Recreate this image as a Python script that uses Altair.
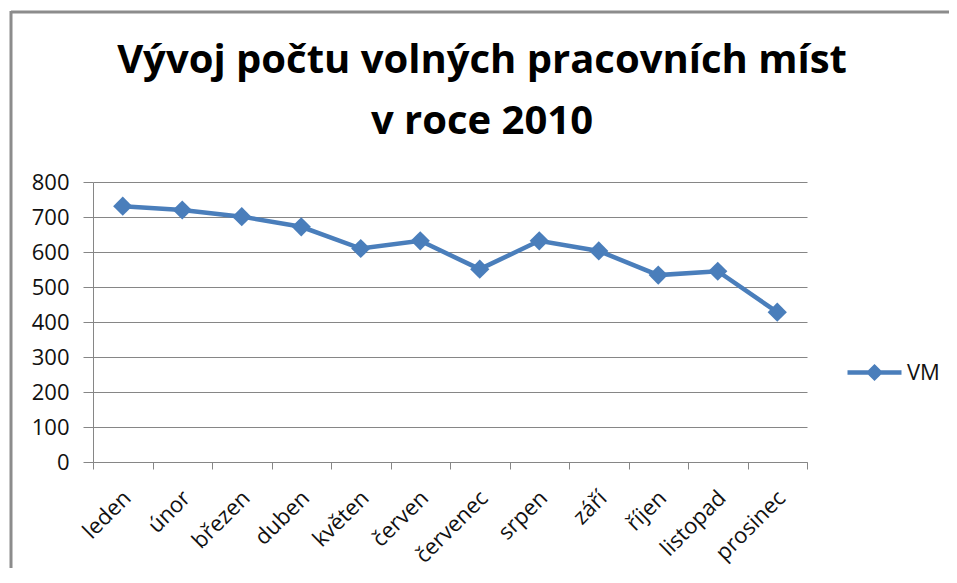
import altair as alt
import pandas as pd

# ---- data ----
months = ["leden", "únor", "březen", "duben", "květen", "červen",
          "červenec", "srpen", "září", "říjen", "listopad", "prosinec"]
vm_values = [731, 720, 701, 672, 610, 632, 551, 632, 603, 534, 545, 428]
series_name = "VM"
y_tick_values = [0, 100, 200, 300, 400, 500, 600, 700, 800]
title_lines = ["Vývoj počtu volných pracovních míst", "v roce 2010"]

df = pd.DataFrame({"mesic": months, "VM": vm_values, "rada": [series_name] * len(months)})

BLUE = "#4a7ebb"
GRAY = "#868686"
FRAME = "#8c8c8c"
FONT = "Open Sans"

W, H = 714, 280
PAD = {"left": 85, "top": 174, "right": 142, "bottom": 106}

legend_path = "M-1,0L1,0M0,-0.2L0.2,0L0,0.2L-0.2,0Z"

base = alt.Chart(df)

line = base.mark_line(
    strokeWidth=4.5,
    point=alt.OverlayMarkDef(shape="diamond", size=370, filled=True, color=BLUE, opacity=1),
).encode(
    x=alt.X(
        "mesic:N",
        sort=months,
        bandPosition=0.5,
        scale=alt.Scale(type="band", paddingInner=0, paddingOuter=0),
        axis=alt.Axis(
            title=None, grid=False, labelAngle=-45, labelAlign="right",
            labelBaseline="middle", labelFont=FONT, labelFontSize=22,
            labelColor="#111111", labelPadding=25, labelOffset=4,
            tickBand="extent", tickSize=7, tickColor=GRAY, domainColor=GRAY,
            labelOverlap=False,
        ),
    ),
    y=alt.Y(
        "VM:Q",
        scale=alt.Scale(domain=[0, 800], nice=False),
        axis=alt.Axis(
            title=None, values=y_tick_values, grid=True, gridColor=GRAY,
            gridOpacity=1, tickSize=10, tickColor=GRAY, domainColor=GRAY,
            labelFont=FONT, labelFontSize=22, labelColor="#111111",
            labelPadding=14,
        ),
    ),
    color=alt.Color(
        "rada:N",
        scale=alt.Scale(range=[BLUE]),
        legend=alt.Legend(
            title=None, orient="none", legendX=752, legendY=161,
            symbolType=legend_path, symbolSize=2916, symbolStrokeWidth=4.5,
            symbolFillColor=BLUE, symbolStrokeColor=BLUE, symbolOpacity=1,
            labelFont=FONT, labelFontSize=22, labelColor="#111111",
            labelOffset=3, padding=0,
        ),
    ),
)

frame_df = pd.DataFrame({"k": [0]})
frame_left = alt.Chart(frame_df).mark_rule(color=FRAME, strokeWidth=3).encode(
    x=alt.value(-82), y=alt.value(-171), y2=alt.value(420)
)
frame_top = alt.Chart(frame_df).mark_rule(color=FRAME, strokeWidth=3).encode(
    x=alt.value(-82), x2=alt.value(1000), y=alt.value(-170)
)

title_df = pd.DataFrame({"k": [0]})
title_text = alt.Chart(title_df).mark_text(
    font=FONT, fontSize=40, fontWeight="bold", color="#000000",
    align="center", baseline="alphabetic", lineHeight=61,
).encode(
    x=alt.value(389), y=alt.value(-109), text=alt.value(title_lines)
)

chart = alt.layer(frame_left, frame_top, title_text, line).properties(
    width=W,
    height=H,
    padding=PAD,
    autosize=alt.AutoSizeParams(type="none"),
).configure_view(stroke=None)

chart.save("out.html", embed_options={"renderer": "svg", "actions": False})
